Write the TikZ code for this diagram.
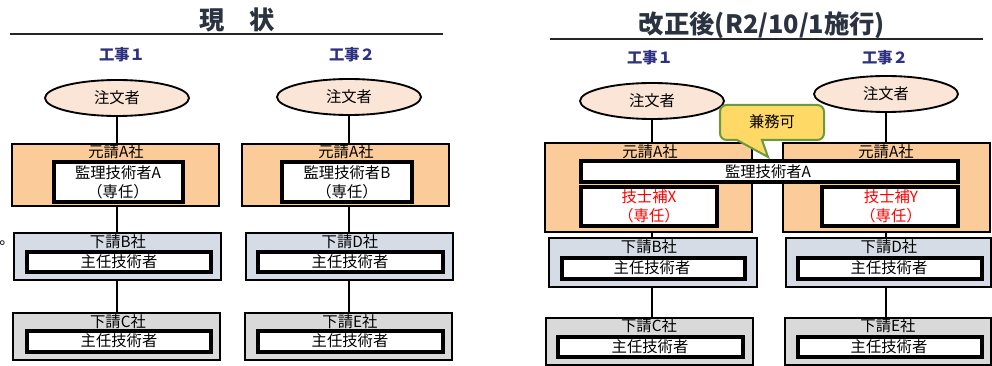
\documentclass[tikz,border=0pt]{standalone}
\usepackage{fontspec}
\setmainfont{Noto Sans CJK JP}
\usetikzlibrary{shapes.geometric,fit,backgrounds}
\definecolor{orangefill}{HTML}{FBCB9A}
\definecolor{ellfill}{HTML}{FBE5D6}
\definecolor{bluefill}{HTML}{D6DCE5}
\definecolor{greyfill}{HTML}{D9D9D9}
\definecolor{titlecol}{HTML}{2B3340}
\definecolor{kojicol}{HTML}{2E3080}
\definecolor{callfill}{HTML}{FFD966}
\definecolor{callline}{HTML}{6A9A3A}
\newcommand\bodyfnt{\fontsize{11.5}{14}\selectfont}
\tikzset{
  outerbox/.style={draw=black, line width=1.1pt, inner sep=0pt},
  obox/.style={outerbox, fill=orangefill},
  bbox/.style={outerbox, fill=bluefill},
  gbox/.style={outerbox, fill=greyfill},
  wbox/.style={draw=black, line width=2.4pt, fill=white, inner sep=0pt},
  ell/.style={ellipse, draw=black, line width=1.4pt, fill=ellfill,
    minimum width=108pt, minimum height=27pt, inner sep=0pt, font=\bodyfnt},
  lbl/.style={inner sep=0pt, font=\bodyfnt, align=center},
  redlbl/.style={lbl, text=red},
  ttl/.style={inner sep=0pt, text=titlecol, font=\fontsize{19}{22}\selectfont\bfseries},
  koji/.style={inner sep=0pt, text=kojicol, font=\fontsize{11.5}{14}\selectfont\bfseries},
  rule/.style={line width=1.5pt, draw=black!85},
  conn/.style={line width=1.2pt, draw=black},
  callbox/.style={draw=callline, line width=1.5pt, fill=callfill}
}
\begin{document}
\begin{tikzpicture}[x=0.75pt, y=-0.75pt]
\useasboundingbox (0,0) rectangle (992,366);

% ===== left panel: 現状 =====
\node[ttl] (t1) at (237,20) {現　状};
\draw[rule] (10,34) -- (443,34);
\node[koji] (k1) at (122,55) {工事１};
\node[koji] (k2) at (352,55) {工事２};

\node[ell] (e1) at (117,98) {注文者};
\node[ell] (e2) at (349,97) {注文者};

\node[obox, fit={(12,144) (219,206)}] (o1) {};
\node[obox, fit={(242,144) (449,206)}] (o2) {};
\node[wbox, fit={(54,162) (183,202)}] (m1) {};
\node[wbox, fit={(282,162) (412,202)}] (m2) {};
\node[lbl] (o1t) at (116,152) {元請A社};
\node[lbl] (o2t) at (346,152) {元請A社};
\node[lbl] (m1t) at (118,182) {監理技術者A\\（専任）};
\node[lbl] (m2t) at (347,182) {監理技術者B\\（専任）};

\node[bbox, fit={(14,233) (221,280)}] (b1) {};
\node[bbox, fit={(246,233) (453,280)}] (b2) {};
\node[wbox, fit={(27,252) (211,272)}] (bi1) {};
\node[wbox, fit={(258,252) (443,272)}] (bi2) {};
\node[lbl] (b1t) at (118,242) {下請B社};
\node[lbl] (b2t) at (350,242) {下請D社};
\node[lbl] (bi1t) at (119,262) {主任技術者};
\node[lbl] (bi2t) at (350,262) {主任技術者};

\node[gbox, fit={(13,313) (220,360)}] (c1) {};
\node[gbox, fit={(245,313) (452,360)}] (c2) {};
\node[wbox, fit={(27,331) (211,352)}] (ci1) {};
\node[wbox, fit={(258,331) (443,352)}] (ci2) {};
\node[lbl] (c1t) at (118,322) {下請C社};
\node[lbl] (c2t) at (350,322) {下請E社};
\node[lbl] (ci1t) at (119,341) {主任技術者};
\node[lbl] (ci2t) at (350,341) {主任技術者};

\node[lbl, anchor=base west] (dot) at (-1,245) {。};

% ===== right panel: 改正後 =====
\node[ttl] (t2) at (762,25) {改正後(R2/10/1施行)};
\draw[rule] (550,39) -- (983,39);
\node[koji] (k3) at (650,58) {工事１};
\node[koji] (k4) at (885,58) {工事２};

\node[ell] (e3) at (652,101) {注文者};
\node[ell] (e4) at (886,94) {注文者};

\node[obox, fit={(545,143) (752,232)}] (o3) {};
\node[obox, fit={(783,143) (990,232)}] (o4) {};
\node[lbl] (o3t) at (650,152) {元請A社};
\node[lbl] (o4t) at (886,152) {元請A社};
\node[wbox, fit={(581,161) (958,182)}] (w) {};
\node[lbl] (wt) at (768,172) {監理技術者A};
\node[wbox, fit={(581,187) (717,226)}] (x) {};
\node[wbox, fit={(822,187) (958,226)}] (y) {};
\node[redlbl] (xt) at (649,206) {技士補X\\（専任）};
\node[redlbl] (yt) at (891,206) {技士補Y\\（専任）};

\node[bbox, fit={(549,238) (757,287)}] (b3) {};
\node[bbox, fit={(786,238) (991,287)}] (b4) {};
\node[wbox, fit={(562,258) (745,279)}] (bi3) {};
\node[wbox, fit={(798,258) (982,279)}] (bi4) {};
\node[lbl] (b3t) at (649,247) {下請B社};
\node[lbl] (b4t) at (889,247) {下請D社};
\node[lbl] (bi3t) at (652,268) {主任技術者};
\node[lbl] (bi4t) at (889,268) {主任技術者};

\node[gbox, fit={(546,318) (753,365)}] (c3) {};
\node[gbox, fit={(785,318) (991,365)}] (c4) {};
\node[wbox, fit={(558,337) (743,357)}] (ci3) {};
\node[wbox, fit={(798,337) (982,357)}] (ci4) {};
\node[lbl] (c3t) at (649,326) {下請C社};
\node[lbl] (c4t) at (888,326) {下請E社};
\node[lbl] (ci3t) at (650,347) {主任技術者};
\node[lbl] (ci4t) at (889,347) {主任技術者};

% callout 兼務可
\draw[callbox] (737,140) [rounded corners=5pt] -- (720,140) -- (720,105) -- (824,105) -- (824,140)
  [sharp corners] -- (762,140) -- (768,157) -- cycle;
\node[lbl] (kenmu) at (772,122) {兼務可};

% ===== connectors =====
\begin{scope}[on background layer]
  \draw[conn] (e1.south) -- (e1.south |- o1.north);
  \draw[conn] (e1.south |- o1.south) -- (e1.south |- b1.north);
  \draw[conn] (e1.south |- b1.south) -- (e1.south |- c1.north);
  \draw[conn] (e2.south) -- (e2.south |- o2.north);
  \draw[conn] (e2.south |- o2.south) -- (e2.south |- b2.north);
  \draw[conn] (e2.south |- b2.south) -- (e2.south |- c2.north);
  \draw[conn] (e3.south) -- (e3.south |- o3.north);
  \draw[conn] (e3.south |- o3.south) -- (e3.south |- b3.north);
  \draw[conn] (e3.south |- b3.south) -- (e3.south |- c3.north);
  \draw[conn] (e4.south) -- (e4.south |- o4.north);
  \draw[conn] (e4.south |- o4.south) -- (e4.south |- b4.north);
  \draw[conn] (e4.south |- b4.south) -- (e4.south |- c4.north);
\end{scope}
\end{tikzpicture}
\end{document}
